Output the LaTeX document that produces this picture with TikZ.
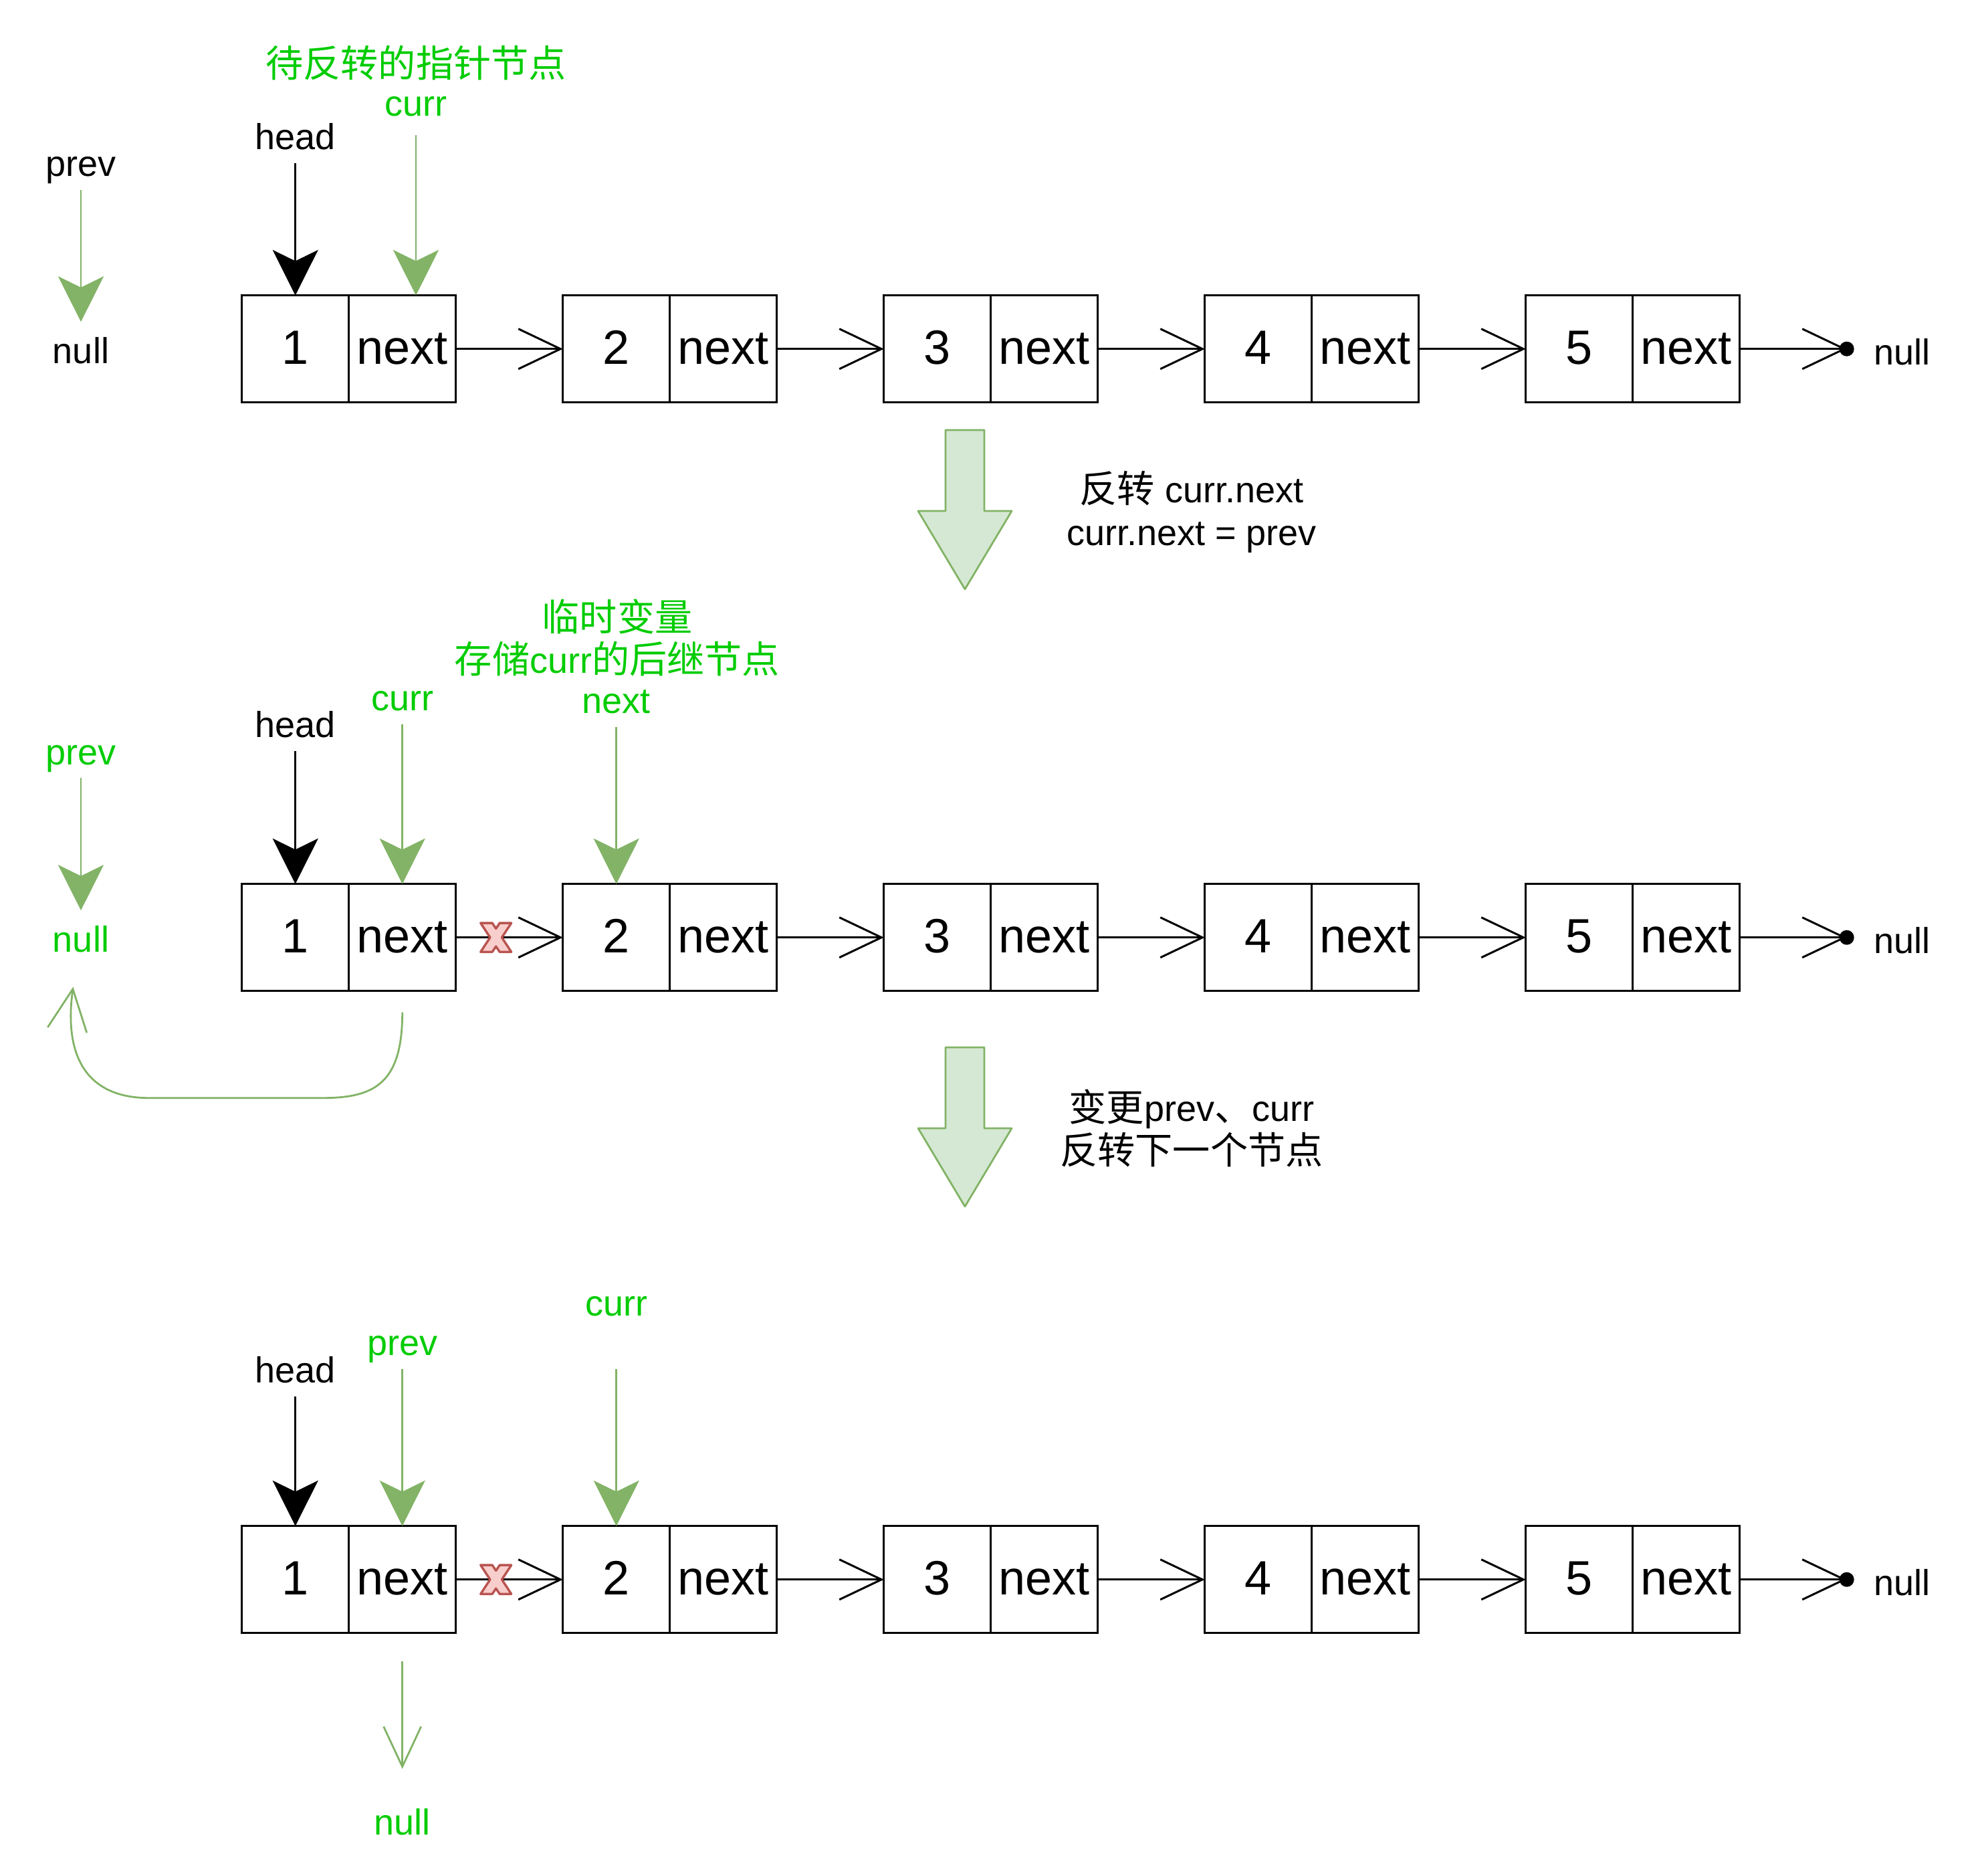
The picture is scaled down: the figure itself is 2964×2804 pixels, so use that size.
\documentclass[tikz,border=0pt]{standalone}
\usepackage{fontspec}
\setmainfont{Liberation Sans}
\newfontfamily\cjk[Scale=1.04]{Noto Sans CJK SC}
\usetikzlibrary{arrows.meta}
\usetikzlibrary{calc}
\definecolor{labelgreen}{HTML}{00CC00}
\definecolor{arrowgreen}{HTML}{82B366}
\definecolor{arrowfill}{HTML}{D5E8D4}
\definecolor{crossfill}{HTML}{F8CECC}
\definecolor{crossline}{HTML}{B85450}
\newcommand{\drawBigArrow}[2]{
	\draw[bigarrow] (#1-29,#2) -- (#1+29,#2) -- (#1+29,#2+121) -- (#1+70,#2+121) -- (#1,#2+238) -- (#1-70,#2+121) -- (#1-29,#2+121) -- cycle;
}
\newcommand{\drawCross}[1]{
	\draw[cross, shift={(#1)}] (-23,-21.6) -- (-5.5,-21.6) -- (0,-13.3) -- (5.5,-21.6) -- (23,-21.6) -- (8.75,0) -- (23,21.6) -- (5.5,21.6) -- (0,13.3) -- (-5.5,21.6) -- (-23,21.6) -- (-8.75,0) -- cycle;
}
\tikzset{
	cell/.style={draw, line width=1.7pt, minimum width=80pt, minimum height=80pt, inner sep=0pt, outer sep=0pt, text height=23pt, text depth=0pt, font=\fontsize{36}{40}\selectfont},
	lbl/.style={inner sep=0pt, anchor=base, text height=19pt, text depth=0pt, font=\fontsize{27}{32}\selectfont},
	glbl/.style={lbl, text=labelgreen},
	link/.style={line width=1.5pt, -{Straight Barb[length=31.5pt,width=30pt]}},
	ptr/.style={line width=1.5pt, shorten <=10pt, -{Stealth[length=34pt,width=34pt,inset=8.3pt]}},
	gptr/.style={ptr, line width=1.3pt, arrowgreen},
	gline/.style={line width=1.4pt, arrowgreen, -{Straight Barb[length=31pt,width=29.5pt]}},
	bigarrow/.style={draw=arrowgreen, fill=arrowfill, line width=1.4pt, line join=round},
	cross/.style={draw=crossline, fill=crossfill, line width=1.7pt, line join=round}
}

\begin{document}
\begin{tikzpicture}[x=0.5pt, y=-0.5pt]
\useasboundingbox (0,0) rectangle (2964,2804);

%Lists
\foreach \r/\y in {1/521.7, 2/1401.7, 3/2361.7}
{
	\foreach \i in {1,...,5}
	{
		\node[cell] (v\r\i) at ({441.7+480*(\i-1)}, \y) {\i};
		\node[cell, anchor=west] (n\r\i) at (v\r\i.east) {next};
	}
	\foreach \i [evaluate=\i as \j using int(\i+1)] in {1,...,4}
	{
		\draw[link] (n\r\i.east) -- (v\r\j.west);
	}
	\coordinate (end\r) at ($(n\r5.east)+(160,0)$);
	\fill (end\r) circle (5.5pt);
	\draw[link] (n\r5.east) -- (end\r);
	\node[lbl, anchor=base west] (nil\r) at ($(end\r)+(40,23.3)$) {null};
}

%Step 1
\node[glbl] (note1) at (622,116) {\cjk 待反转的指针节点};
\node[glbl] (curr1) at (622,174) {curr};
\node[lbl] (head1) at (441.7,224) {head};
\node[lbl] (prev1) at (121,263.5) {prev};
\node[lbl] (null1) at (121,543.6) {null};
\draw[ptr] (head1.south) -- (v11.north);
\draw[gptr, shorten <=14pt] (curr1.south) -- (curr1.south |- n11.north);
\draw[gptr, shorten >=12pt] (prev1.south) -- (null1.north);

\drawBigArrow{1443}{643}
\node[lbl] (step1a) at (1782,751.7) {{\cjk 反转} curr.next};
\node[lbl] (step1b) at (1782,815) {curr.next = prev};

%Step 2
\node[glbl] (note2) at (923,943) {\cjk 临时变量};
\node[glbl] (note3) at (923,1006) {{\cjk 存储}curr{\cjk 的后继节点}};
\node[glbl] (next2) at (921.7,1066.7) {next};
\node[glbl] (curr2) at (601.7,1062.7) {curr};
\node[lbl] (head2) at (441.7,1102.7) {head};
\node[glbl] (prev2) at (121,1143) {prev};
\node[glbl] (null2) at (121,1423.6) {null};
\draw[ptr] (head2.south) -- (v21.north);
\draw[gptr] (curr2.south) -- (n21.north);
\draw[gptr] (next2.south) -- (v22.north);
\draw[gptr, shorten >=12pt] (prev2.south) -- (null2.north);

\coordinate (cut2) at ($(n21.east)+(60,0)$);
\drawCross{cut2}
% curr.next back to prev
\coordinate (back2) at ($(null2.south)+(-11.6,51.4)$);
\draw[gline, shorten <=16pt] (n21.south) .. controls (601.7,1620) and (560,1641.7) .. (482,1641.7) -- (223,1641.7) .. controls (130,1641.7) and (95,1580) .. (back2);

\drawBigArrow{1443}{1566}
\node[lbl] (step2a) at (1782,1676.7) {{\cjk 变更}prev{\cjk 、}curr};
\node[lbl] (step2b) at (1782,1740) {\cjk 反转下一个节点};

%Step 3
\node[glbl] (curr3) at (921.7,1967) {curr};
\node[glbl] (prev3) at (601.7,2026.5) {prev};
\node[lbl] (head3) at (441.7,2067.9) {head};
\node[glbl] (null3) at (601.7,2743.3) {null};
\draw[ptr] (head3.south) -- (v31.north);
\draw[gptr] (prev3.south) -- (n31.north);
\draw[gptr, shorten <=40pt] (curr3.south) -- (v32.north);
\draw[gline, shorten <=21pt, shorten >=30pt, -{Straight Barb[length=30pt,width=28pt]}] (n31.south) -- (null3.north);

\coordinate (cut3) at ($(n31.east)+(60,0)$);
\drawCross{cut3}
\end{tikzpicture}
\end{document}
